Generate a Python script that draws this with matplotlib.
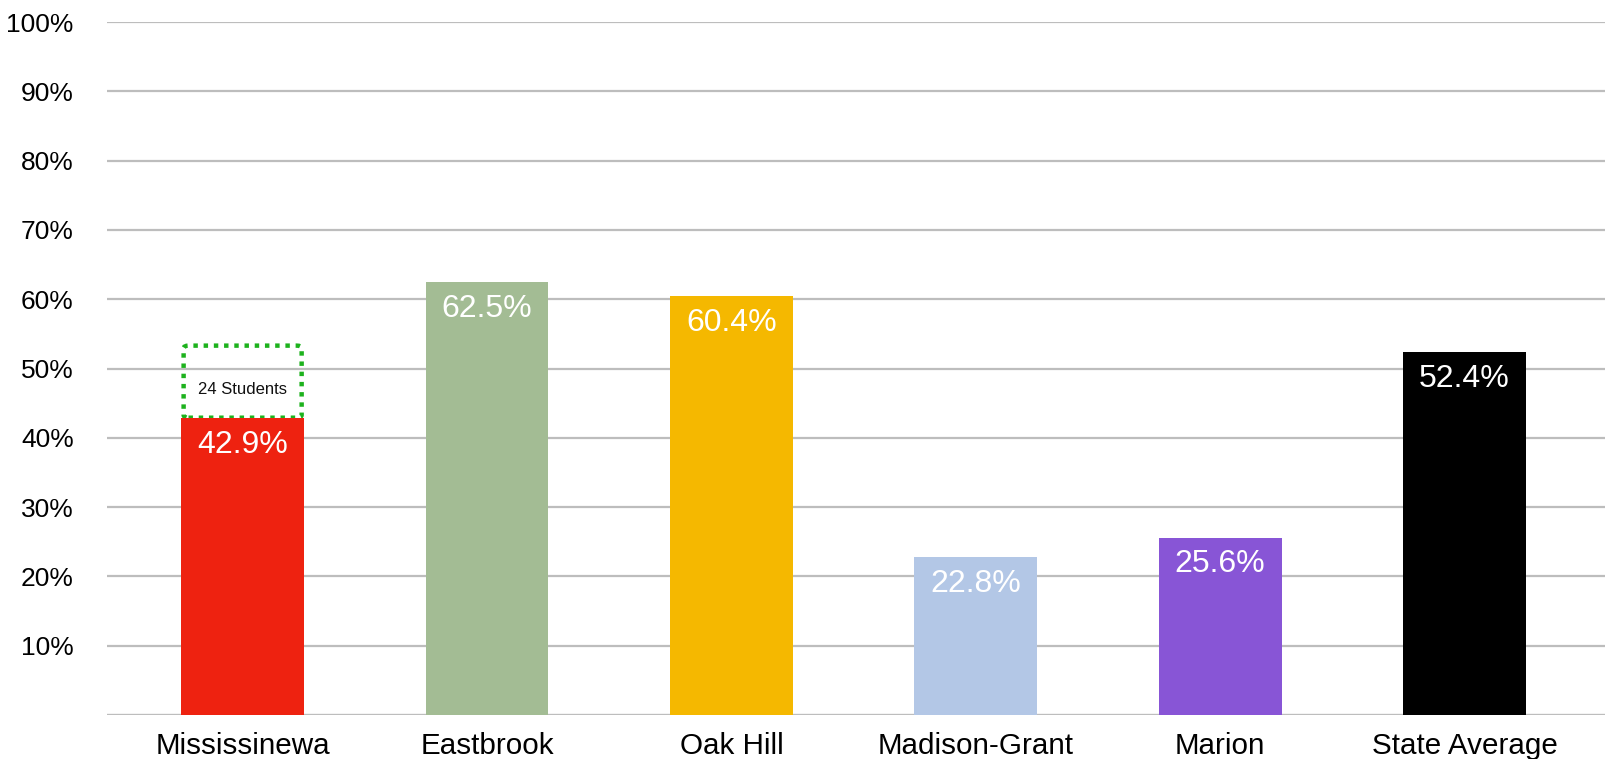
import matplotlib
matplotlib.use("Agg")
import matplotlib.pyplot as plt
from matplotlib.patches import FancyBboxPatch

plt.rcParams['font.family'] = ['Liberation Sans', 'DejaVu Sans']

categories = ["Mississinewa", "Eastbrook", "Oak Hill", "Madison-Grant", "Marion", "State Average"]
values = [42.9, 62.5, 60.4, 22.8, 25.6, 52.4]
colors = ["#EE2210", "#A3BC94", "#F5B800", "#B3C7E6", "#8855D6", "#000000"]
yticks = [10, 20, 30, 40, 50, 60, 70, 80, 90, 100]
box_top = 53.3
box_label = "24 Students"
box_label_y = 47.0

W, H = 1606, 759
fig = plt.figure(figsize=(W / 100, H / 100), dpi=100)
ax = fig.add_axes([107 / W, 44 / H, 1499 / W, 693 / H])

x = list(range(len(categories)))
bar_w = 0.503
ax.set_xlim(-0.555, 5.579)
ax.set_ylim(0, 100)

for y in yticks:
    ax.axhline(y, color="#BDBDBD", lw=1.6, zorder=0)
ax.axhline(0, color="#BDBDBD", lw=2.4, zorder=0)

bars = ax.bar(x, values, width=bar_w, color=colors, zorder=2)

for xi, v in zip(x, values):
    ax.annotate(f"{v}%", (xi, v), xytext=(0, -8.5), textcoords="offset points",
                ha="center", va="top", color="white", fontsize=23, zorder=3)

# dotted box above first bar
box = FancyBboxPatch((x[0] - bar_w / 2 + 0.01, values[0]), bar_w - 0.02, box_top - values[0],
                     boxstyle="round,pad=0,rounding_size=0.02", fill=False,
                     edgecolor="#1DB21D", linestyle=(0, (1, 1.3)), lw=3.2, zorder=1,
                     mutation_aspect=20)
ax.add_patch(box)
ax.text(x[0], box_label_y, box_label, ha="center", va="center",
        fontsize=12, color="#111111")

ax.set_yticks(yticks)
ax.set_yticklabels([f"{t}%" for t in yticks], fontsize=19)
ax.set_xticks(x)
ax.set_xticklabels(categories, fontsize=21.3)
ax.tick_params(axis="y", length=0, pad=24)
ax.tick_params(axis="x", length=0, pad=12)
for s in ax.spines.values():
    s.set_visible(False)

fig.savefig("out.png", dpi=100)
